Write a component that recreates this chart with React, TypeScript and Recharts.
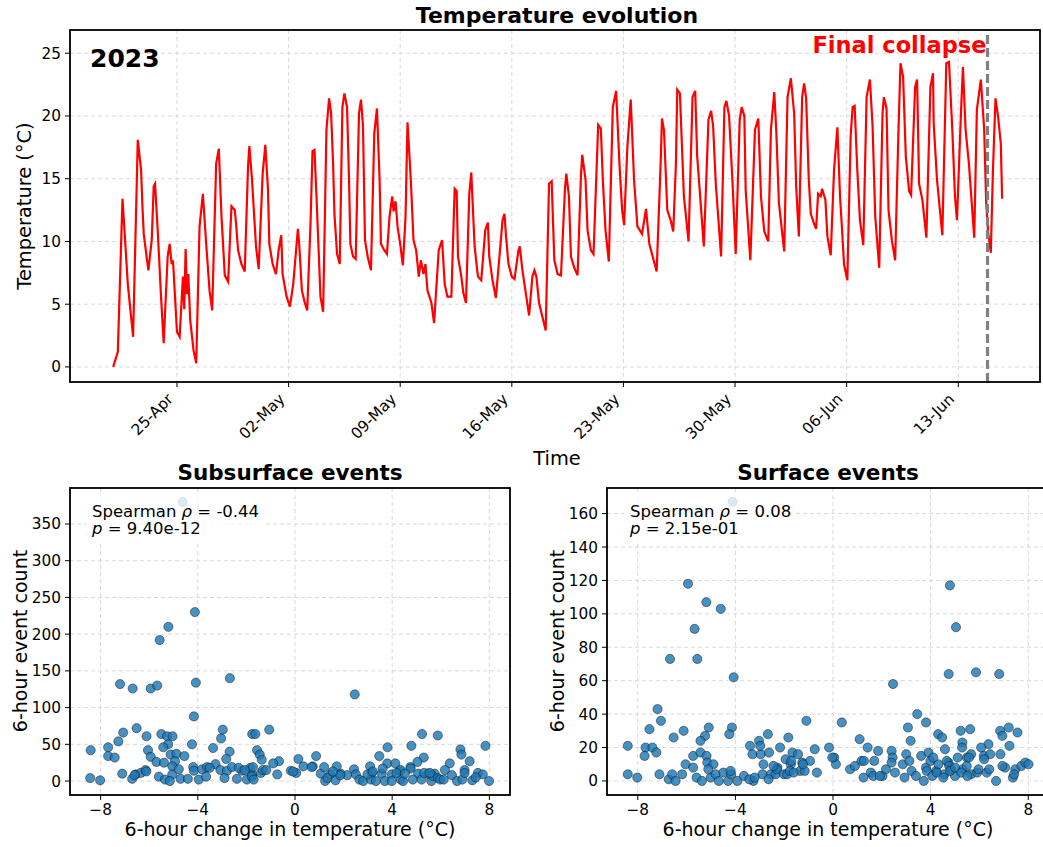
import React from "react";
import {
  LineChart,
  Line,
  ScatterChart,
  Scatter,
  XAxis,
  YAxis,
  CartesianGrid,
  ReferenceLine,
} from "recharts";

const FONT = "'DejaVu Sans', Verdana, sans-serif";
const HOUR = 3600 * 1000;

// logger record, hours counted from the first reading
const recordStart = "2023-04-21T00:00:00Z";
const readingHours = [
  0, 7, 14, 17, 22, 26, 30, 35, 37, 42, 44, 46, 51, 53, 58, 61, 63, 67, 72, 76,
  82, 85, 88, 90, 96, 100, 105, 107, 109, 111, 113, 116, 121, 125, 130, 135, 140, 145, 149, 155,
  159, 163, 168, 173, 178, 183, 185, 188, 193, 198, 203, 205, 209, 215, 219, 225, 229, 233, 235, 240,
  245, 249, 253, 255, 261, 266, 271, 278, 280, 284, 288, 292, 297, 300, 303, 306, 312, 316, 321, 325,
  328, 331, 333, 337, 341, 345, 348, 352, 355, 357, 361, 365, 370, 373, 376, 379, 383, 388, 393, 397,
  401, 403, 408, 412, 416, 420, 422, 425, 428, 432, 436, 440, 443, 448, 452, 456, 460, 463, 467, 470,
  473, 479, 483, 490, 495, 499, 503, 509, 514, 517, 519, 524, 527, 531, 536, 539, 544, 549, 554, 560,
  564, 566, 571, 576, 584, 586, 589, 591, 595, 600, 604, 610, 612, 616, 621, 626, 631, 634, 637, 641,
  646, 651, 656, 660, 664, 669, 674, 680, 682, 686, 689, 694, 699, 704, 706, 711, 714, 719, 723, 727,
  730, 734, 737, 741, 746, 752, 757, 762, 766, 769, 774, 779, 784, 789, 796, 802, 807, 812, 818, 824,
  826, 829, 834, 839, 843, 847, 849, 853, 859, 866, 872, 876, 879, 885, 889, 896, 900, 903, 907, 915,
  920, 923, 927, 932, 937, 943, 946, 950, 952, 959, 966, 971, 975, 980, 986, 990, 995, 998, 1002, 1010,
  1015, 1020, 1025, 1028, 1032, 1037, 1040, 1043, 1047, 1050, 1055, 1058, 1061, 1065, 1067, 1072, 1075, 1080, 1085, 1090,
  1094, 1097, 1100, 1105, 1110, 1113, 1116, 1120, 1124, 1129, 1134, 1139, 1143, 1147, 1153, 1158, 1160, 1164, 1167, 1172,
  1177, 1182, 1185, 1189, 1193, 1198, 1201, 1207, 1210, 1213, 1218, 1224, 1230, 1234, 1235, 1240, 1248, 1254, 1258, 1263,
  1267, 1270, 1276, 1279, 1283, 1288, 1296, 1300, 1306, 1311, 1314, 1317, 1321, 1324, 1328, 1332, 1336, 1338,
];
const readingTemps = [
  0.0, 1.2, 13.4, 10.9, 6.6, 4.5, 2.4, 13.6, 18.1, 15.7, 12.8, 10.6, 8.5, 7.7, 10.1, 14.4, 14.6, 10.9, 5.6, 1.9,
  8.8, 9.8, 8.2, 8.5, 2.8, 2.4, 7.2, 4.6, 9.4, 5.8, 7.4, 3.7, 1.3, 0.3, 11.2, 13.8, 9.8, 6.1, 4.5, 16.2,
  17.4, 12.0, 7.3, 6.8, 12.8, 12.5, 11.4, 9.3, 8.2, 7.6, 16.0, 17.6, 14.9, 9.6, 7.8, 15.4, 17.7, 14.1, 9.8, 8.2,
  7.4, 9.3, 10.5, 7.4, 5.6, 4.8, 6.6, 11.0, 9.8, 6.1, 5.2, 4.5, 11.4, 17.2, 17.3, 13.6, 5.6, 4.4, 18.9, 21.4,
  20.2, 16.2, 12.2, 9.0, 8.2, 20.7, 21.8, 20.7, 14.9, 9.8, 8.8, 8.6, 20.2, 21.3, 19.2, 10.1, 8.8, 7.7, 18.6, 20.6,
  14.9, 9.8, 9.3, 9.0, 12.0, 13.6, 12.4, 13.2, 11.2, 9.8, 8.1, 11.9, 19.5, 14.9, 10.1, 9.3, 7.2, 8.5, 7.4, 8.2,
  6.1, 5.1, 3.5, 9.3, 10.1, 6.6, 5.6, 5.6, 14.2, 14.0, 8.8, 7.2, 5.9, 5.1, 13.8, 15.5, 9.6, 7.2, 6.9, 10.9,
  11.5, 8.8, 6.9, 5.5, 10.4, 11.7, 12.2, 10.6, 8.2, 7.2, 7.0, 9.3, 9.6, 7.7, 5.9, 4.1, 7.2, 7.7, 7.2, 5.1,
  4.0, 2.9, 14.6, 14.8, 8.5, 7.4, 7.3, 14.2, 15.4, 13.6, 8.8, 7.9, 7.3, 15.2, 16.9, 14.9, 10.9, 9.3, 9.0, 14.9,
  19.3, 19.0, 14.9, 10.9, 8.4, 20.7, 22.0, 16.2, 12.5, 11.3, 17.6, 21.3, 14.9, 11.2, 10.6, 12.6, 9.8, 8.8, 7.6, 16.2,
  19.8, 18.9, 12.5, 11.7, 10.8, 16.2, 22.1, 21.8, 13.6, 10.0, 21.5, 22.0, 16.8, 12.5, 9.6, 19.7, 20.4, 19.2, 14.6, 8.8,
  20.7, 21.2, 20.0, 14.9, 9.0, 19.7, 20.7, 20.0, 14.1, 8.5, 18.9, 19.8, 13.6, 10.8, 10.0, 18.9, 21.9, 18.9, 13.1, 9.2,
  21.5, 23.0, 20.2, 14.4, 10.4, 21.5, 22.6, 21.4, 14.9, 12.2, 11.4, 11.0, 13.8, 13.6, 14.2, 13.3, 10.4, 8.9, 15.7, 19.1,
  13.6, 11.0, 8.2, 6.9, 18.4, 20.7, 20.8, 15.7, 11.7, 9.7, 21.5, 22.9, 19.2, 12.0, 7.9, 20.2, 21.5, 20.6, 12.5, 10.1,
  8.5, 18.9, 24.2, 23.1, 16.8, 14.0, 13.7, 22.3, 22.9, 14.6, 13.3, 10.3, 22.3, 23.4, 19.4, 14.9, 10.5, 24.2, 24.3, 18.9,
  13.6, 11.7, 20.2, 23.9, 18.9, 16.2, 10.3, 20.5, 22.9, 18.9, 13.1, 10.7, 9.1, 15.4, 21.4, 19.9, 17.8, 13.4,
];
const collapseAt = "2023-06-14T20:00:00Z";
const dateTicks = [
  "2023-04-25", "2023-05-02", "2023-05-09", "2023-05-16",
  "2023-05-23", "2023-05-30", "2023-06-06", "2023-06-13",
];
const tempTicks = [0, 5, 10, 15, 20, 25];

// [6-hour temperature change, 6-hour event count]
const subsurfaceEvents: [number, number][] = [
  [-4.62, 380], [-4.12, 230], [-5.21, 210], [-5.57, 192], [-7.2, 132], [-6.68, 126], [-5.94, 126],
  [-5.67, 130], [-4.08, 134], [-2.68, 140], [-4.16, 88], [2.46, 118],
  [-6.52, 72], [-7.07, 66], [-6.11, 61], [-5.5, 64], [-5.26, 61], [-5.04, 61], [-2.97, 70], [-1.06, 70],
  [-1.76, 64], [-1.63, 64], [-3.04, 58], [-7.27, 54], [5.23, 64], [5.88, 62], [-4.24, 50], [-5.22, 50],
  [-8.41, 42], [-7.69, 46], [-7.69, 34], [-7.42, 32], [-6.05, 42], [-5.94, 33], [-5.42, 46], [-5.12, 36],
  [-4.88, 37], [-4.55, 34], [-3.37, 45], [-2.69, 40], [-2.83, 30], [-1.56, 42], [-1.45, 36], [-1.37, 29],
  [-0.66, 27], [-0.9, 24], [0.14, 30], [0.87, 34], [3.47, 34], [3.81, 46], [4.79, 48], [5.3, 32],
  [6.81, 43], [6.85, 36], [7.19, 27], [7.84, 48], [5.04, 26], [6.37, 24], [3.8, 24], [4.13, 24],
  [-4.94, 27], [-5.7, 26], [-5.39, 25],
  [-7.11, 10], [-6.56, 9], [-6.35, 11], [-6.15, 15], [-5.05, 20], [-5.05, 9], [-4.78, 16], [-4.19, 19],
  [-4.16, 14], [-3.82, 16], [-3.62, 19], [-3.27, 23], [-3.07, 15], [-2.8, 14], [-2.59, 19], [-2.18, 14],
  [-1.84, 18], [-1.77, 9], [-1.73, 19], [-1.4, 11], [-1.32, 15], [-0.73, 9], [-0.17, 14], [0.05, 11],
  [0.35, 20], [0.73, 20], [1.06, 10], [1.2, 19], [1.45, 9], [1.72, 20], [1.88, 10], [2.15, 8],
  [2.43, 16], [2.51, 9], [3.09, 20], [3.16, 11], [3.57, 10], [3.98, 9], [4.32, 14], [4.75, 19],
  [5.07, 10], [5.48, 10], [5.75, 10], [6.17, 15], [6.98, 15], [7.53, 11], [7.73, 9], [4.76, 17],
  [4.35, 15], [3.61, 17], [0.69, 19], [-3.51, 18], [-2.32, 18], [-2.07, 15], [-1.18, 15], [-6.12, 13],
  [-8.43, 4], [-8.02, 1], [-6.7, 3], [-6.6, 8], [-5.6, 6], [-5.35, 2], [-5.15, 0], [-4.71, 3],
  [-4.41, 3], [-3.96, 2], [-3.66, 6], [-2.9, 4], [-2.39, 3], [-1.98, 2], [-1.77, 6], [-1.7, 2],
  [1.24, 0], [1.34, 4], [1.67, 1], [1.86, 8], [2.65, 2], [2.81, 0], [3.13, 2], [3.33, 0],
  [3.7, 0], [3.98, 0], [4.35, 2], [4.45, 0], [4.85, 2], [5.21, 2], [5.61, 0], [5.66, 7],
  [5.89, 4], [5.98, 2], [6.12, 2], [6.46, 8], [6.67, 0], [6.89, 2], [7.3, 1], [7.44, 5], [7.99, 0],
  [-0.07, 13], [1.56, 13], [2.98, 9], [3.2, 13], [4.18, 11], [4.52, 10], [5.32, 11], [5.55, 11], [6.98, 11],
];

const surfaceEvents: [number, number][] = [
  [-4.12, 167], [-5.94, 118], [-5.19, 107], [-4.6, 103], [-5.67, 91], [-6.68, 73], [-5.56, 73],
  [-4.07, 62], [4.79, 117], [5.04, 92], [4.74, 64], [5.86, 65], [6.81, 64], [2.46, 58],
  [-7.19, 43], [-7.05, 36], [-7.52, 31], [-6.12, 30], [-5.09, 32], [-4.14, 32], [-4.25, 28], [-6.53, 26],
  [-5.24, 27], [-5.43, 24], [-1.09, 36], [-2.67, 28], [-1.83, 26], [3.45, 40], [0.36, 35], [3.81, 35],
  [3.07, 32], [4.31, 28], [4.47, 26], [5.23, 30], [5.62, 31], [6.85, 30], [6.94, 27], [7.2, 32],
  [7.56, 29], [1.09, 25], [3.18, 24], [5.3, 23], [6.37, 22],
  [-8.41, 21], [-8.41, 4], [-8.02, 2], [-7.68, 20], [-7.72, 15], [-7.4, 20], [-7.24, 17], [-7.11, 4],
  [-6.73, 1], [-6.59, 4], [-6.45, 0], [-6.18, 4], [-6.04, 10], [-5.73, 8], [-5.73, 15], [-5.59, 2],
  [-5.43, 17], [-5.18, 15], [-5.15, 11], [-5.01, 2], [-4.9, 10], [-4.81, 4], [-4.68, 0], [-4.49, 5],
  [-4.3, 0], [-4.17, 4], [-3.92, 0], [-3.65, 3], [-3.4, 21], [-3.3, 16], [-3.26, 0], [-3.03, 24],
  [-2.96, 16], [-2.89, 4], [-2.62, 17], [-2.85, 10], [-2.55, 4], [-2.35, 4], [-2.28, 8], [-2.17, 20],
  [-2.01, 4], [-1.94, 13], [-1.73, 10], [-1.66, 17], [-1.43, 16], [-1.35, 6], [-1.26, 11], [-0.94, 12],
  [-0.75, 19], [-0.66, 5], [-0.16, 20], [0.05, 14], [0.12, 10], [0.7, 7], [0.9, 9], [1.17, 12],
  [1.25, 2], [1.42, 20], [1.55, 5], [1.69, 12], [1.85, 18], [2.03, 3], [2.17, 7], [2.4, 18],
  [2.44, 14], [2.54, 5], [2.86, 10], [2.93, 2], [3.0, 16], [3.13, 12], [3.22, 6], [3.4, 3],
  [3.61, 15], [3.72, 0], [3.81, 8], [3.91, 17], [3.99, 12], [4.22, 6], [4.32, 10], [4.59, 19],
  [4.56, 4], [4.73, 11], [4.84, 7], [5.0, 3], [5.11, 14], [5.31, 7], [5.49, 14], [5.66, 16],
  [5.66, 4], [5.91, 5], [6.07, 20], [6.18, 15], [6.44, 16], [6.68, 0], [6.86, 16], [7.05, 8],
  [7.23, 21], [7.37, 2], [7.47, 7], [7.72, 9], [7.88, 11], [8.01, 10],
  [-5.37, 0], [-5.11, 7], [-4.2, 6], [-2.3, 7], [-1.88, 4], [-1.77, 6], [-1.61, 5], [-1.16, 6],
  [-1.23, 10], [-0.03, 14], [-2.98, 21], [-1.71, 12], [-2.44, 9], [-3.43, 1], [-3.21, 2], [-2.64, 1],
  [1.27, 12], [1.65, 3], [1.92, 3], [2.4, 11], [3.84, 6], [4.11, 14], [4.07, 3], [4.25, 5],
  [4.52, 2], [4.66, 12], [4.76, 9], [4.8, 6], [5.0, 8], [5.26, 5], [5.48, 9], [5.57, 14],
  [5.51, 3], [5.96, 7], [6.19, 13], [6.3, 5], [6.4, 7], [6.94, 9], [7.42, 4], [5.29, 20],
];

const deltaTicks = [-8, -4, 0, 4, 8];
const subsurfaceCountTicks = [0, 50, 100, 150, 200, 250, 300, 350];
const surfaceCountTicks = [0, 20, 40, 60, 80, 100, 120, 140, 160];
const spearmanRho = [-0.44, 0.08];
const spearmanP = [9.4e-12, 0.215];

const MONTHS = ["Jan", "Feb", "Mar", "Apr", "May", "Jun", "Jul", "Aug", "Sep", "Oct", "Nov", "Dec"];

const t0 = Date.parse(recordStart);
const tempData = readingHours.map((h, i) => ({ t: t0 + h * HOUR, temp: readingTemps[i] }));
const tickTimes = dateTicks.map((d) => Date.parse(d + "T00:00:00Z"));
const collapseTime = Date.parse(collapseAt);
const subsurfaceData = subsurfaceEvents.map(([dT, count]) => ({ dT, count }));
const surfaceData = surfaceEvents.map(([dT, count]) => ({ dT, count }));

const fmtDate = (ms: number) => {
  const d = new Date(ms);
  return `${String(d.getUTCDate()).padStart(2, "0")}-${MONTHS[d.getUTCMonth()]}`;
};
const fmtMinus = (v: number) => (v < 0 ? `\u2212${Math.abs(v)}` : `${v}`);
const fmtP = (p: number) => {
  const [m, e] = p.toExponential(2).split("e");
  const n = Number(e);
  return `${m}e${n < 0 ? "-" : "+"}${String(Math.abs(n)).padStart(2, "0")}`;
};

const TICK_FONT = 15.3;

const DateTick = (props: any) => {
  const { x, y, payload } = props;
  const ax = x - 3;
  const ay = y + 10;
  return (
    <text
      x={ax}
      y={ay}
      transform={`rotate(-45 ${ax} ${ay})`}
      textAnchor="end"
      fontSize={TICK_FONT}
      fontFamily={FONT}
      fill="#000"
    >
      {fmtDate(payload.value)}
    </text>
  );
};

const LeftTick = (props: any) => {
  const { x, y, payload } = props;
  return (
    <text x={x - 1} y={y} dy="0.36em" textAnchor="end" fontSize={TICK_FONT} fontFamily={FONT} fill="#000">
      {fmtMinus(payload.value)}
    </text>
  );
};

const BottomTick = (props: any) => {
  const { x, y, payload } = props;
  return (
    <text x={x} y={y + 12} textAnchor="middle" fontSize={TICK_FONT} fontFamily={FONT} fill="#000">
      {fmtMinus(payload.value)}
    </text>
  );
};

const CollapseLabel = (props: any) => {
  const { viewBox } = props;
  if (!viewBox) return null;
  return (
    <text
      x={viewBox.x - 1}
      y={viewBox.y + 23}
      textAnchor="end"
      fill="#ff0000"
      fontWeight="bold"
      fontSize={22.5}
      fontFamily={FONT}
    >
      Final collapse
    </text>
  );
};

const EventDot = (props: any) => (
  <circle
    cx={props.cx}
    cy={props.cy}
    r={4.6}
    fill="#1f77b4"
    fillOpacity={0.82}
    stroke="#000"
    strokeOpacity={0.7}
    strokeWidth={0.6}
  />
);

const tickLine = { stroke: "#000", strokeWidth: 1 };
const gridStroke = "#d9d9d9";

type EventPanelProps = {
  data: { dT: number; count: number }[];
  left: number;
  countDomain: [number, number];
  countTicks: number[];
  margin: { top: number; right: number; bottom: number; left: number };
};

const EventPanel = ({ data, left, countDomain, countTicks, margin }: EventPanelProps) => (
  <div style={{ position: "absolute", left, top: 460 }}>
    <ScatterChart width={520} height={380} margin={margin}>
      <CartesianGrid strokeDasharray="4 3" stroke={gridStroke} />
      <XAxis
        type="number"
        dataKey="dT"
        domain={[-9.26, 8.85]}
        allowDataOverflow
        ticks={deltaTicks}
        interval={0}
        height={30}
        axisLine={false}
        tickLine={tickLine}
        tickSize={5}
        tickMargin={3}
        tick={BottomTick}
      />
      <YAxis
        type="number"
        dataKey="count"
        domain={countDomain}
        allowDataOverflow
        ticks={countTicks}
        interval={0}
        width={50}
        axisLine={false}
        tickLine={tickLine}
        tickSize={5}
        tickMargin={3}
        tick={LeftTick}
      />
      <Scatter data={data} shape={EventDot} isAnimationActive={false} />
    </ScatterChart>
  </div>
);

const StatsBox = ({ x, rho, p, boxWidth }: { x: number; rho: number; p: number; boxWidth: number }) => (
  <g>
    <rect x={x - 6} y={495} width={boxWidth} height={46} rx={4} fill="#fff" fillOpacity={0.8} />
    <text x={x} y={517} fontSize={16.5} fontFamily={FONT} fill="#000" style={{ whiteSpace: "pre" }}>
      <tspan>{"Spearman "}</tspan>
      <tspan fontStyle="italic">ρ</tspan>
      <tspan>{` = ${rho.toFixed(2)}`}</tspan>
    </text>
    <text x={x} y={534} fontSize={16.5} fontFamily={FONT} fill="#000" style={{ whiteSpace: "pre" }}>
      <tspan fontStyle="italic">p</tspan>
      <tspan>{` = ${fmtP(p)}`}</tspan>
    </text>
  </g>
);

export default function App() {
  return (
    <div
      style={{
        position: "absolute",
        left: 0,
        top: 0,
        width: 1043,
        height: 847,
        overflow: "hidden",
        background: "#fff",
        fontFamily: FONT,
      }}
    >
      <div style={{ position: "absolute", left: 0, top: 0 }}>
        <LineChart width={1043} height={460} data={tempData} margin={{ top: 30, right: 3, bottom: 18, left: 30 }}>
          <CartesianGrid strokeDasharray="4 3" stroke={gridStroke} />
          <XAxis
            type="number"
            dataKey="t"
            domain={[t0 - 65 * HOUR, t0 + 1395 * HOUR]}
            allowDataOverflow
            ticks={tickTimes}
            interval={0}
            height={60}
            axisLine={false}
            tickLine={tickLine}
            tickSize={5}
            tickMargin={3}
            tick={DateTick}
          />
          <YAxis
            type="number"
            domain={[-1.2, 26.85]}
            allowDataOverflow
            ticks={tempTicks}
            interval={0}
            width={40}
            axisLine={false}
            tickLine={tickLine}
            tickSize={5}
            tickMargin={3}
            tick={LeftTick}
          />
          <Line
            type="linear"
            dataKey="temp"
            stroke="#ff0000"
            strokeWidth={2.2}
            dot={false}
            isAnimationActive={false}
          />
          <ReferenceLine
            x={collapseTime}
            stroke="#808080"
            strokeWidth={3.2}
            strokeDasharray="9 4"
            label={<CollapseLabel />}
          />
        </LineChart>
      </div>

      <EventPanel
        data={subsurfaceData}
        left={0}
        countDomain={[-19, 399]}
        countTicks={subsurfaceCountTicks}
        margin={{ top: 28, right: 10, bottom: 15, left: 20 }}
      />
      <EventPanel
        data={surfaceData}
        left={540}
        countDomain={[-8.4, 175.3]}
        countTicks={surfaceCountTicks}
        margin={{ top: 28, right: 11, bottom: 15, left: 17 }}
      />

      <svg
        width={1043}
        height={847}
        style={{ position: "absolute", left: 0, top: 0, pointerEvents: "none" }}
      >
        {/* axes frames */}
        <rect x={70} y={30} width={970} height={352} fill="none" stroke="#000" strokeWidth={1.8} />
        <rect x={70} y={488} width={440} height={307} fill="none" stroke="#000" strokeWidth={1.8} />
        <rect x={607} y={488} width={442} height={307} fill="none" stroke="#000" strokeWidth={1.8} />

        <text x={557} y={23} textAnchor="middle" fontSize={22} fontWeight="bold" fontFamily={FONT}>
          Temperature evolution
        </text>
        <text x={90} y={67} fontSize={25} fontWeight="bold" fontFamily={FONT}>
          2023
        </text>
        <text
          x={31}
          y={206}
          transform="rotate(-90 31 206)"
          textAnchor="middle"
          fontSize={19.4}
          fontFamily={FONT}
        >
          Temperature (°C)
        </text>
        <text x={557} y={465} textAnchor="middle" fontSize={19.4} fontFamily={FONT}>
          Time
        </text>

        <text x={290} y={480} textAnchor="middle" fontSize={21.5} fontWeight="bold" fontFamily={FONT}>
          Subsurface events
        </text>
        <text x={828} y={480} textAnchor="middle" fontSize={21.5} fontWeight="bold" fontFamily={FONT}>
          Surface events
        </text>
        <text x={27} y={641} transform="rotate(-90 27 641)" textAnchor="middle" fontSize={19} fontFamily={FONT}>
          6-hour event count
        </text>
        <text x={564} y={641} transform="rotate(-90 564 641)" textAnchor="middle" fontSize={19} fontFamily={FONT}>
          6-hour event count
        </text>
        <text x={290} y={836} textAnchor="middle" fontSize={19} fontFamily={FONT}>
          6-hour change in temperature (°C)
        </text>
        <text x={828} y={836} textAnchor="middle" fontSize={19} fontFamily={FONT}>
          6-hour change in temperature (°C)
        </text>

        <StatsBox x={92} rho={spearmanRho[0]} p={spearmanP[0]} boxWidth={178} />
        <StatsBox x={630} rho={spearmanRho[1]} p={spearmanP[1]} boxWidth={170} />
      </svg>
    </div>
  );
}
